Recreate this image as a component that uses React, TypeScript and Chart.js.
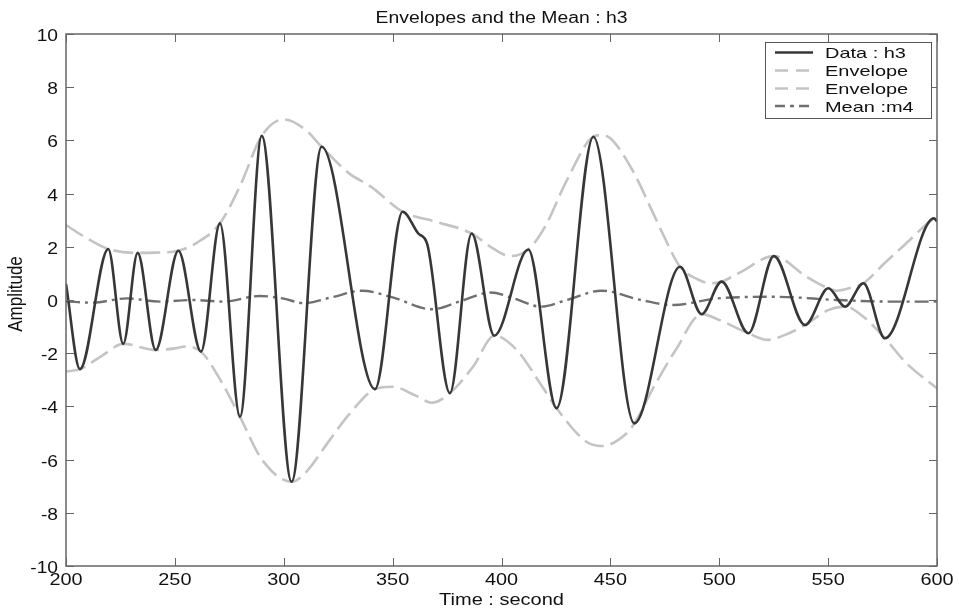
import React, { useEffect, useRef } from "react";
import { Chart, registerables } from "chart.js";

Chart.register(...registerables);

const titleText = "Envelopes and the Mean : h3";
const xTitle = "Time : second";
const yTitle = "Amplitude";

const xTicks = [200, 250, 300, 350, 400, 450, 500, 550, 600];
const yTicks = [-10, -8, -6, -4, -2, 0, 2, 4, 6, 8, 10];

const legendLabels = ["Data : h3", "Envelope", "Envelope", "Mean :m4"];

// Data : h3 (turning points)
const dataX = [200, 206.4, 219.4, 226.3, 232.9, 241.2, 251.6, 262, 270.7, 279.9, 289.9, 303.6, 317.4, 341.9, 354.6, 361.8, 365.9, 376.3, 386.3, 396.7, 412.3, 425.3, 442.2, 461, 482, 491.9, 501.1, 513.4, 525.1, 539.4, 550.1, 557.8, 566.2, 576.1, 598.6, 600];
const dataY = [0.6, -2.6, 1.92, -1.65, 1.77, -1.88, 1.85, -1.94, 2.88, -4.39, 6.17, -6.83, 5.76, -3.35, 3.32, 2.5, 2.1, -3.5, 2.5, -1.34, 1.9, -4.07, 6.14, -4.64, 1.25, -0.53, 0.69, -1.25, 1.65, -0.94, 0.44, -0.25, 0.63, -1.44, 3.07, 2.95];

// Upper envelope
const upperX = [200, 210, 219.4, 232.9, 241, 251.6, 260, 270.7, 280, 289.9, 300, 310, 317.4, 330, 340, 354.6, 370, 386.3, 395, 404, 412.3, 420, 430, 442.2, 446, 450, 460, 470, 474, 482, 490, 496, 501.1, 510, 525.1, 540, 550.1, 554, 560, 566.2, 576, 586, 598.6, 600];
const upperY = [2.82, 2.3, 1.92, 1.77, 1.78, 1.85, 2.15, 2.88, 4.3, 6.17, 6.79, 6.4, 5.76, 4.76, 4.26, 3.32, 2.94, 2.5, 2.0, 1.65, 1.9, 2.76, 4.5, 6.14, 6.2, 6.08, 4.9, 3.2, 2.5, 1.25, 0.78, 0.63, 0.69, 1.06, 1.65, 0.88, 0.44, 0.35, 0.45, 0.63, 1.39, 2.14, 3.07, 3.12];

// Lower envelope
const lowerX = [200, 206.4, 217, 226.3, 241.2, 250, 255, 262, 270, 279.9, 290, 303.6, 310, 320, 330, 341.9, 350, 360, 368, 376.3, 387, 396.7, 407, 417.7, 425.3, 439, 446, 457.5, 461, 470, 480, 491.9, 500, 513.4, 522, 530, 539.4, 550, 557.8, 566.2, 576.1, 586, 600];
const lowerY = [-2.69, -2.6, -2.07, -1.65, -1.88, -1.82, -1.75, -1.94, -2.88, -4.39, -6.0, -6.83, -6.49, -5.39, -4.3, -3.35, -3.26, -3.57, -3.86, -3.5, -2.5, -1.34, -1.88, -3.13, -4.07, -5.33, -5.49, -5.01, -4.64, -3.26, -1.88, -0.53, -0.75, -1.25, -1.5, -1.32, -0.94, -0.38, -0.25, -0.63, -1.44, -2.38, -3.32];

// Mean : m4
const meanX = [200, 212, 228, 243, 258, 272, 289, 300, 309, 322, 336, 350, 368, 381, 395, 406, 418, 430, 446, 464, 479, 499, 526, 554, 578, 600];
const meanY = [-0.05, -0.1, 0.06, -0.06, 0.0, -0.06, 0.15, 0.05, -0.12, 0.1, 0.35, 0.1, -0.35, -0.05, 0.28, 0.05, -0.25, 0.0, 0.35, 0.0, -0.19, 0.06, 0.12, 0.0, -0.06, -0.06];

const FONT = '"Liberation Sans", Arial, sans-serif';

function drawText(
  ctx: CanvasRenderingContext2D,
  text: string,
  x: number,
  y: number,
  size: number,
  sx: number,
  align: CanvasTextAlign,
  baseline: CanvasTextBaseline = "alphabetic",
  rotate = false
) {
  ctx.save();
  ctx.translate(x, y);
  if (rotate) {
    ctx.rotate(-Math.PI / 2);
    ctx.scale(1, sx);
  } else {
    ctx.scale(sx, 1);
  }
  ctx.font = `${size}px ${FONT}`;
  ctx.textAlign = align;
  ctx.textBaseline = baseline;
  ctx.fillStyle = "#111";
  ctx.fillText(text, 0, 0);
  ctx.restore();
}

const legendDash: number[][] = [[], [13, 8], [13, 8], [10, 5, 4, 5]];

const framePlugin = {
  id: "matlabFrame",
  afterDraw(chart: any) {
    const ctx: CanvasRenderingContext2D = chart.ctx;
    const { left, right, top, bottom } = chart.chartArea;
    const xs = chart.scales.x;
    const ys = chart.scales.y;
    ctx.save();
    // box
    ctx.strokeStyle = "#666";
    ctx.lineWidth = 1.5;
    ctx.setLineDash([]);
    ctx.strokeRect(left, top, right - left, bottom - top);
    // inward ticks
    ctx.lineWidth = 1;
    ctx.beginPath();
    xTicks.forEach((v) => {
      const p = Math.round(xs.getPixelForValue(v)) + 0.5;
      ctx.moveTo(p, bottom);
      ctx.lineTo(p, bottom - 8);
      ctx.moveTo(p, top);
      ctx.lineTo(p, top + 8);
    });
    yTicks.forEach((v) => {
      const p = Math.round(ys.getPixelForValue(v)) + 0.5;
      ctx.moveTo(left, p);
      ctx.lineTo(left + 8, p);
      ctx.moveTo(right, p);
      ctx.lineTo(right - 8, p);
    });
    ctx.stroke();
    ctx.restore();

    // tick labels
    xTicks.forEach((v) => {
      drawText(ctx, String(v), xs.getPixelForValue(v), 585, 16, 1.24, "center");
    });
    yTicks.forEach((v) => {
      drawText(ctx, String(v), 58, ys.getPixelForValue(v) + 7, 16, 1.2, "right");
    });

    // titles
    drawText(ctx, titleText, (left + right) / 2, 23, 16, 1.21, "center");
    drawText(ctx, xTitle, (left + right) / 2, 605, 16, 1.25, "center");
    drawText(ctx, yTitle, 17, 294, 17, 1.15, "center", "middle", true);

    // legend
    const bx = 765, by = 42, bw = 166, bh = 76;
    ctx.save();
    ctx.fillStyle = "#fff";
    ctx.fillRect(bx, by, bw, bh);
    ctx.strokeStyle = "#555";
    ctx.lineWidth = 1;
    ctx.strokeRect(bx + 0.5, by + 0.5, bw, bh);
    ctx.restore();
    const rows = [52.5, 70.5, 88.5, 106];
    chart.data.datasets.forEach((ds: any, i: number) => {
      const y = rows[i];
      ctx.save();
      ctx.strokeStyle = ds.borderColor;
      ctx.lineWidth = ds.borderWidth;
      ctx.setLineDash(legendDash[i]);
      ctx.beginPath();
      ctx.moveTo(775, y);
      ctx.lineTo(813, y);
      ctx.stroke();
      ctx.restore();
      drawText(ctx, legendLabels[i], 825, y + 5.5, 15, 1.33, "left");
    });
  },
};

export default function App() {
  const ref = useRef<HTMLCanvasElement>(null);

  useEffect(() => {
    const canvas = ref.current;
    if (!canvas) return;
    const pts = (xs: number[], ys: number[]) => xs.map((x, i) => ({ x, y: ys[i] }));
    const common = {
      pointRadius: 0,
      fill: false,
      cubicInterpolationMode: "monotone" as const,
    };
    const chart = new Chart(canvas, {
      type: "line",
      data: {
        datasets: [
          { ...common, label: legendLabels[0], data: pts(dataX, dataY), borderColor: "#373737", borderWidth: 2.6 },
          { ...common, label: legendLabels[1], data: pts(upperX, upperY), borderColor: "#c4c4c4", borderWidth: 2.6, borderDash: [20, 7] },
          { ...common, label: legendLabels[2], data: pts(lowerX, lowerY), borderColor: "#c4c4c4", borderWidth: 2.6, borderDash: [20, 7] },
          { ...common, label: legendLabels[3], data: pts(meanX, meanY), borderColor: "#707070", borderWidth: 2.4, borderDash: [14, 5, 3, 5] },
        ],
      },
      options: {
        responsive: false,
        animation: false,
        devicePixelRatio: 1,
        events: [],
        layout: { padding: { left: 66, top: 34, right: 22, bottom: 44 } },
        scales: {
          x: { type: "linear", min: 200, max: 600, display: false },
          y: { type: "linear", min: -10, max: 10, display: false },
        },
        plugins: {
          legend: { display: false },
          title: { display: false },
          tooltip: { enabled: false },
        },
      },
      plugins: [framePlugin],
    });
    return () => chart.destroy();
  }, []);

  return (
    <div style={{ position: "absolute", left: 0, top: 0, width: 959, height: 610, background: "#fff" }}>
      <canvas ref={ref} width={959} height={610} style={{ display: "block" }} />
    </div>
  );
}
